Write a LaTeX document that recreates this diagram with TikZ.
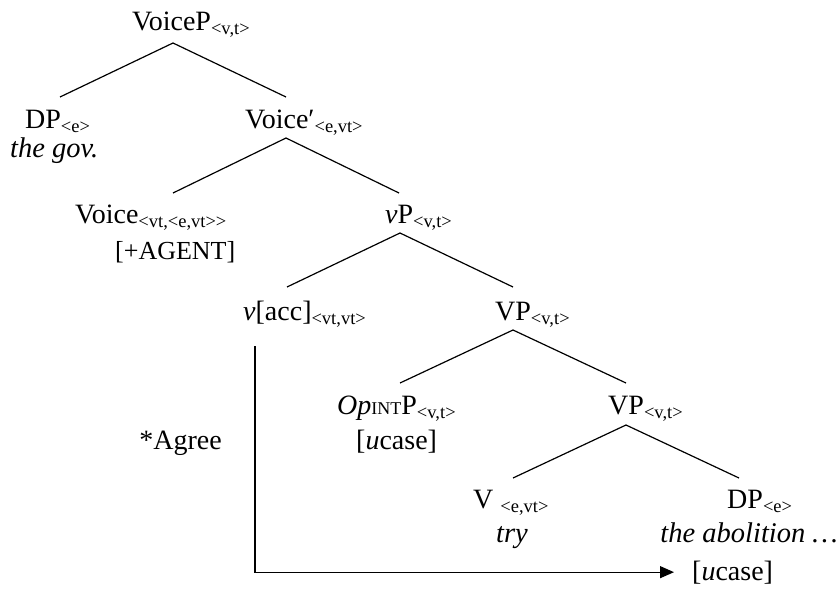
\documentclass[tikz,border=0pt]{standalone}
\usepackage{fontspec}
\setmainfont{Liberation Serif}
\usetikzlibrary{arrows.meta}
\newcommand{\tsub}[1]{\raisebox{-4.5pt}{\fontsize{18.5}{18.5}\selectfont #1}}
\newcommand{\tint}{{\fontsize{18}{18}\selectfont INT}}
\begin{document}
\begin{tikzpicture}[x=1pt,y=-1pt,
  lbl/.style={anchor=base west,inner sep=0pt,font=\fontsize{28}{28}\selectfont},
  small/.style={anchor=base west,inner sep=0pt,font=\fontsize{26}{26}\selectfont},
  itl/.style={anchor=base west,inner sep=0pt,font=\fontsize{28.5}{28.5}\selectfont\itshape},
  branch/.style={line width=1.2pt},
  agreeline/.style={line width=1.2pt,-{Triangle[length=14pt,width=12pt]}}]
\useasboundingbox (0,0) rectangle (840,589);
\fill[white] (0,0) rectangle (840,589);
% nodes
\node[lbl] (voicep) at (132,30) {VoiceP\tsub{<v,t>}};
\node[lbl] (dp1) at (25,128) {DP\tsub{<e>}};
\node[itl] (gov) at (10,157) {the gov.};
\node[lbl] (voicebar) at (245,128) {Voice′\tsub{<e,vt>}};
\node[lbl] (voice) at (75,223) {Voice\tsub{<vt,<e,vt>{}>}};
\node[small] (agent) at (115,259) {[+AGENT]};
\node[lbl] (vp) at (385,223) {\textit{v}P\tsub{<v,t>}};
\node[lbl] (vacc) at (243,320) {\textit{v}[acc]\tsub{<vt,vt>}};
\node[lbl] (vp1) at (495,320) {VP\tsub{<v,t>}};
\node[lbl] (opint) at (337,414) {\textit{Op}\tint P\tsub{<v,t>}};
\node[lbl] (ucase1) at (356,449) {[\textit{u}case]};
\node[lbl] (vp2) at (608,414) {VP\tsub{<v,t>}};
\node[lbl,anchor=base east] (agree) at (222,449) {*Agree};
\node[lbl] (vv) at (473,508) {V \tsub{<e,vt>}};
\node[itl] (try) at (496,542) {try};
\node[lbl] (dp2) at (727,508) {DP\tsub{<e>}};
\node[itl,anchor=base east] (abol) at (838,542) {the abolition \ldots};
\node[lbl] (ucase2) at (692,580) {[\textit{u}case]};
% branch points
\coordinate (voicep-b) at (173,43);
\coordinate (dp1-t) at (60,97);
\coordinate (voicebar-t) at (286,97);
\coordinate (voicebar-b) at (286,138);
\coordinate (voice-t) at (173,193);
\coordinate (vp-t) at (399,193);
\coordinate (vp-b) at (400,233);
\coordinate (vacc-t) at (287,287);
\coordinate (vp1-t) at (513,287);
\coordinate (vp1-b) at (513,330);
\coordinate (opint-t) at (400,383);
\coordinate (vp2-t) at (626,383);
\coordinate (vp2-b) at (626,425);
\coordinate (vv-t) at (513,478);
\coordinate (dp2-t) at (739,478);
\coordinate (agree-start) at (255,346);
% branches
\draw[branch] (dp1-t) -- (voicep-b) -- (voicebar-t);
\draw[branch] (voice-t) -- (voicebar-b) -- (vp-t);
\draw[branch] (vacc-t) -- (vp-b) -- (vp1-t);
\draw[branch] (opint-t) -- (vp1-b) -- (vp2-t);
\draw[branch] (vv-t) -- (vp2-b) -- (dp2-t);
% agree arrow
\draw[agreeline] (agree-start) |- ([xshift=-18pt]ucase2.west);
\end{tikzpicture}
\end{document}
